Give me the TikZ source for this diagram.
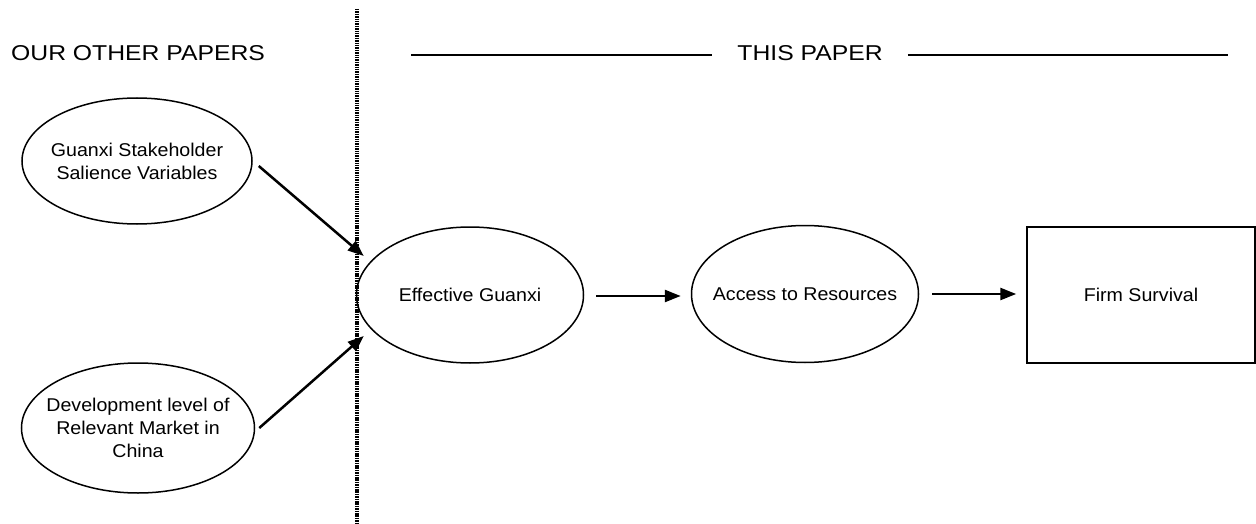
\documentclass[tikz,border=0pt]{standalone}
\usepackage{fontspec}
\setmainfont{Liberation Sans}
\newfontfamily\hdrfont[FakeStretch=1.15]{Liberation Sans}
\newfontfamily\boxfont[FakeStretch=1.06]{Liberation Sans}
\usetikzlibrary{shapes.geometric,arrows.meta,calc}
\begin{document}
\begin{tikzpicture}[x=1pt,y=-1pt,
  ell/.style={ellipse,draw,line width=1.5pt,inner xsep=-30pt,inner ysep=-10pt,align=center,
    font=\boxfont\fontsize{18.5}{23}\selectfont},
  rbox/.style={rectangle,draw,line width=1.5pt,inner sep=0pt,align=center,
    font=\boxfont\fontsize{18.5}{23}\selectfont},
  hdr/.style={inner sep=0pt,font=\hdrfont\fontsize{21.5}{26}\selectfont},
  arr/.style={line width=2.5pt,-{Triangle[length=16pt,width=12pt]}},
  hline/.style={line width=1.6pt},
  divider/.style={line width=3.2pt,dash pattern=on 1.5pt off 0.9pt}]
\useasboundingbox (0,0) rectangle (1256,524);
\fill[white] (0,0) rectangle (1256,524);

% headers
\node[hdr,anchor=west] (other) at (11,53) {OUR OTHER PAPERS};
\node[hdr] (this) at (810,53) {THIS PAPER};
\coordinate (hl1) at (411,55);
\coordinate (hr2) at (1228,55);
\draw[hline] (hl1) -- ([xshift=-25pt]this.west |- hl1);
\draw[hline] ([xshift=25pt]this.east |- hr2) -- (hr2);

% divider
\coordinate (dtop) at (357,9);
\coordinate (dbot) at (357,524);
\draw[divider] (dtop) -- (dbot);

% nodes
\node[ell,minimum width=230pt,minimum height=126pt] (e1) at (137,161)
  {Guanxi Stakeholder\\Salience Variables};
\node[ell,minimum width=233pt,minimum height=130pt] (e2) at (138,428)
  {Development level of\\Relevant Market in\\China};
\node[ell,minimum width=227pt,minimum height=136pt] (eg) at (470,295)
  {Effective Guanxi};
\node[ell,minimum width=227pt,minimum height=137pt] (ar) at (805,294)
  {Access to Resources};
\node[rbox,minimum width=228pt,minimum height=136pt] (fs) at (1141,295)
  {Firm Survival};

% connectors
\draw[arr] ($(e1.east)+(6,5)$) -- ($(eg.west)+(8,-39)$);
\draw[arr] ($(e2.east)+(4,0)$) -- ($(eg.west)+(8,41)$);
\draw[arr] ([xshift=12pt,yshift=-1pt]eg.east) -- ([xshift=-10pt]ar.west |- 0,296);
\draw[arr] ([xshift=13pt]ar.east) -- ([xshift=-10pt]fs.west |- 0,294);
\end{tikzpicture}
\end{document}
